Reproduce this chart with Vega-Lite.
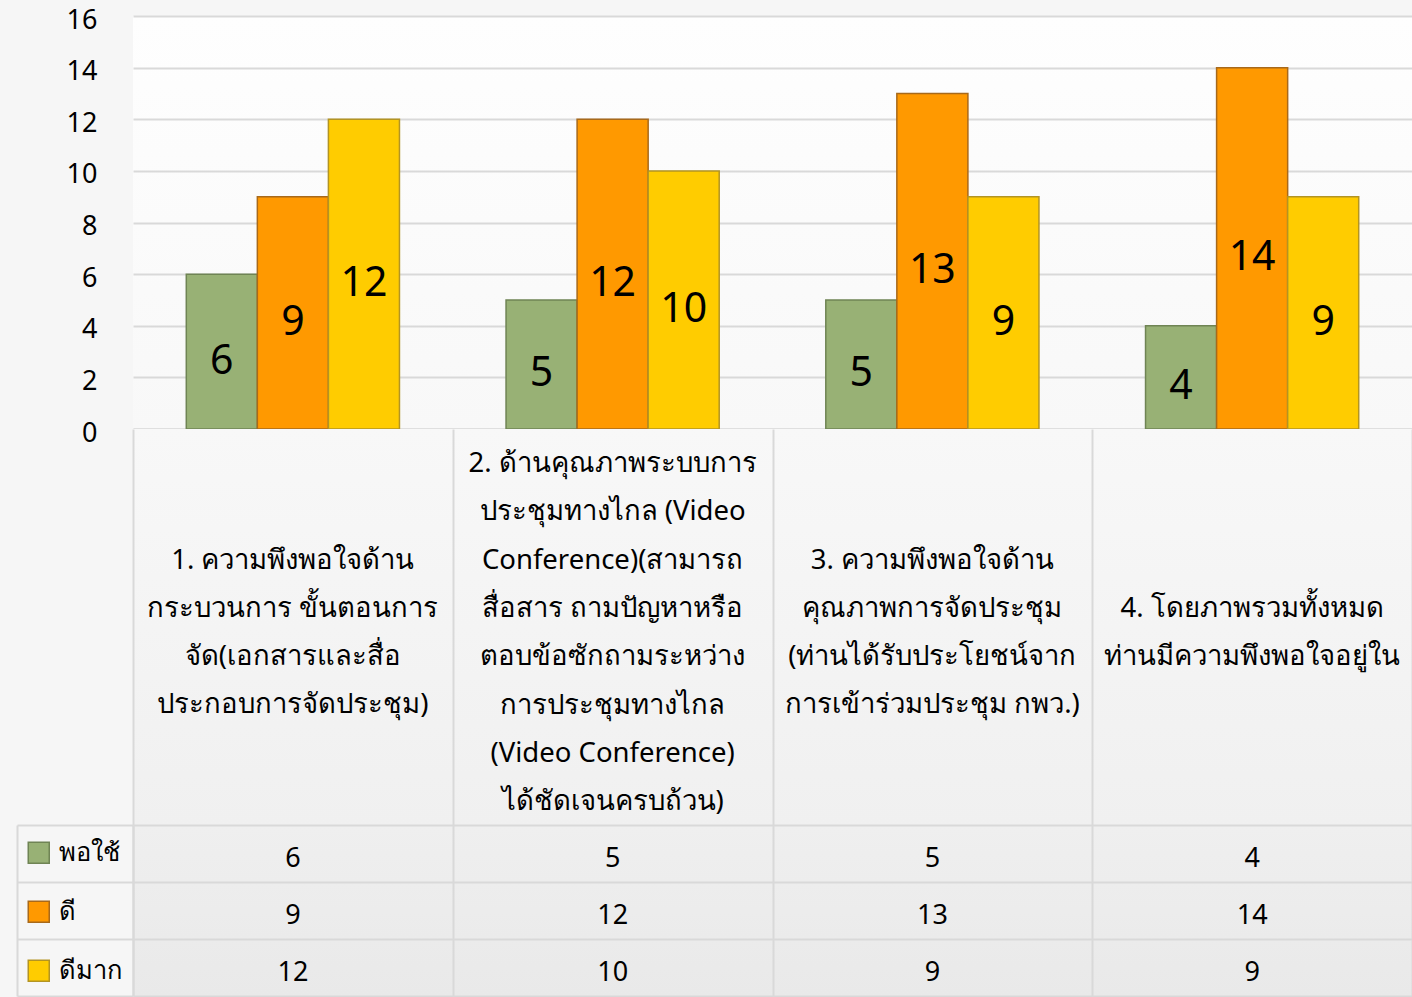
{
  "$schema": "https://vega.github.io/schema/vega-lite/v6.json",
  "padding": {"left": 16, "top": 6, "right": 0, "bottom": 0},
  "background": "#f6f6f6",
  "spacing": 0,
  "bounds": "flush",
  "config": {
    "font": "Noto Sans",
    "view": {"stroke": null},
    "axis": {"labelFont": "Noto Sans", "labelColor": "#000000"},
    "legend": {"labelFont": "Noto Sans", "labelColor": "#000000"}
  },
  "resolve": {
    "scale": {"x": "independent", "y": "independent", "fill": "independent", "stroke": "independent"},
    "axis": {"x": "independent", "y": "independent"},
    "legend": {"fill": "independent", "stroke": "independent"}
  },
  "datasets": {
    "scores": [
      {"cat": "c1", "series": "พอใช้", "value": 6},
      {"cat": "c1", "series": "ดี", "value": 9},
      {"cat": "c1", "series": "ดีมาก", "value": 12},
      {"cat": "c2", "series": "พอใช้", "value": 5},
      {"cat": "c2", "series": "ดี", "value": 12},
      {"cat": "c2", "series": "ดีมาก", "value": 10},
      {"cat": "c3", "series": "พอใช้", "value": 5},
      {"cat": "c3", "series": "ดี", "value": 13},
      {"cat": "c3", "series": "ดีมาก", "value": 9},
      {"cat": "c4", "series": "พอใช้", "value": 4},
      {"cat": "c4", "series": "ดี", "value": 14},
      {"cat": "c4", "series": "ดีมาก", "value": 9}
    ],
    "cats": [
      {"cat": "c1", "label": "1. ความพึงพอใจด้าน\nกระบวนการ ขั้นตอนการ\nจัด(เอกสารและสื่อ\nประกอบการจัดประชุม)"},
      {"cat": "c2", "label": "2. ด้านคุณภาพระบบการ\nประชุมทางไกล (Video\nConference)(สามารถ\nสื่อสาร ถามปัญหาหรือ\nตอบข้อซักถามระหว่าง\nการประชุมทางไกล\n(Video Conference)\nได้ชัดเจนครบถ้วน)"},
      {"cat": "c3", "label": "3. ความพึงพอใจด้าน\nคุณภาพการจัดประชุม\n(ท่านได้รับประโยชน์จาก\nการเข้าร่วมประชุม กพว.)"},
      {"cat": "c4", "label": "4. โดยภาพรวมทั้งหมด\nท่านมีความพึงพอใจอยู่ใน"}
    ]
  },
  "vconcat": [
    {
      "width": 1279,
      "height": 413,
      "view": {"stroke": null, "fill": {"gradient": "linear", "x1": 0, "y1": 0, "x2": 0, "y2": 1, "stops": [{"offset": 0, "color": "#fefefe"}, {"offset": 1, "color": "#f8f8f8"}]}},
      "data": {"name": "scores"},
      "encoding": {
        "x": {"field": "cat", "type": "nominal", "scale": {"domain": ["c1", "c2", "c3", "c4"], "paddingInner": 0, "paddingOuter": 0},
              "axis": {"title": null, "labels": false, "ticks": false, "grid": false, "domain": true, "domainColor": "#d6d6d6", "domainWidth": 2}},
        "xOffset": {"field": "series", "type": "nominal", "sort": ["พอใช้", "ดี", "ดีมาก"], "scale": {"paddingInner": 0, "paddingOuter": 0.75}}
      },
      "layer": [
        {
          "mark": {"type": "bar", "strokeWidth": 1.5},
          "encoding": {
            "y": {"field": "value", "type": "quantitative", "scale": {"domain": [0, 16], "nice": false},
                  "axis": {"title": null, "values": [0, 2, 4, 6, 8, 10, 12, 14, 16], "ticks": false, "domain": false, "grid": true, "gridColor": "#d9d9d9", "gridWidth": 2, "labelFontSize": 27, "labelPadding": 36, "labelOffset": 4}},
            "fill": {"field": "series", "type": "nominal", "sort": ["พอใช้", "ดี", "ดีมาก"], "scale": {"domain": ["พอใช้", "ดี", "ดีมาก"], "range": ["#98b175", "#ff9900", "#ffcc00"]}, "legend": null},
            "stroke": {"field": "series", "type": "nominal", "scale": {"domain": ["พอใช้", "ดี", "ดีมาก"], "range": ["#6f8454", "#a8691a", "#b39422"]}, "legend": null}
          }
        },
        {
          "mark": {"type": "text", "fontSize": 41, "baseline": "middle", "dy": 10, "color": "#000000"},
          "encoding": {
            "y": {"field": "value", "type": "quantitative", "scale": {"domain": [0, 32], "nice": false}, "axis": null},
            "text": {"field": "value", "type": "quantitative"}
          }
        }
      ],
      "resolve": {"scale": {"y": "independent"}, "axis": {"y": "independent"}}
    },
    {
      "width": 1279,
      "height": 396,
      "view": {"stroke": null, "fill": {"gradient": "linear", "x1": 0, "y1": 0, "x2": 0, "y2": 1, "stops": [{"offset": 0, "color": "#f8f8f8"}, {"offset": 1, "color": "#f0f0f0"}]}},
      "data": {"name": "cats"},
      "encoding": {
        "x": {"field": "cat", "type": "nominal", "scale": {"domain": ["c1", "c2", "c3", "c4"], "paddingInner": 0, "paddingOuter": 0},
              "axis": {"title": null, "orient": "top", "labels": false, "ticks": false, "domain": false, "grid": true, "tickBand": "extent", "gridColor": "#d9d9d9", "gridWidth": 2}},
        "text": {"field": "label", "type": "nominal"}
      },
      "layer": [
        {
          "transform": [{"filter": "datum.cat == 'c1' || datum.cat == 'c3'"}],
          "mark": {"type": "text", "fontSize": 27.5, "lineHeight": 48.3, "lineBreak": "\n", "baseline": "middle", "align": "center", "dy": -66.5, "color": "#000000"}
        },
        {
          "transform": [{"filter": "datum.cat == 'c2'"}],
          "mark": {"type": "text", "fontSize": 27.5, "lineHeight": 48.3, "lineBreak": "\n", "baseline": "middle", "align": "center", "dy": -163, "color": "#000000"}
        },
        {
          "transform": [{"filter": "datum.cat == 'c4'"}],
          "mark": {"type": "text", "fontSize": 27.5, "lineHeight": 48.3, "lineBreak": "\n", "baseline": "middle", "align": "center", "dy": -18, "color": "#000000"}
        }
      ]
    },
    {
      "width": 1279,
      "height": 171,
      "view": {"stroke": null, "fill": {"gradient": "linear", "x1": 0, "y1": 0, "x2": 0, "y2": 1, "stops": [{"offset": 0, "color": "#efefef"}, {"offset": 1, "color": "#e9e9e9"}]}},
      "data": {"name": "scores"},
      "encoding": {
        "x": {"field": "cat", "type": "nominal", "scale": {"domain": ["c1", "c2", "c3", "c4"], "paddingInner": 0, "paddingOuter": 0},
              "axis": {"title": null, "labels": false, "ticks": false, "domain": false, "grid": true, "tickBand": "extent", "gridColor": "#d9d9d9", "gridWidth": 2}},
        "y": {"field": "series", "type": "nominal", "sort": ["พอใช้", "ดี", "ดีมาก"], "scale": {"domain": ["พอใช้", "ดี", "ดีมาก"], "paddingInner": 0, "paddingOuter": 0}}
      },
      "layer": [
        {
          "mark": {"type": "text", "fontSize": 27, "baseline": "middle", "dy": 5, "color": "#000000"},
          "encoding": {
            "y": {"field": "series", "type": "nominal", "sort": ["พอใช้", "ดี", "ดีมาก"],
                  "axis": {"title": null, "labels": false, "domain": true, "domainColor": "#d9d9d9", "domainWidth": 2, "ticks": true, "tickBand": "extent", "tickSize": 116, "tickColor": "#d9d9d9", "tickWidth": 2, "grid": true, "gridColor": "#d9d9d9", "gridWidth": 2}},
            "text": {"field": "value", "type": "quantitative"}
          }
        },
        {
          "mark": {"type": "square", "opacity": 0},
          "encoding": {
            "y": {"field": "series", "type": "nominal", "sort": ["พอใช้", "ดี", "ดีมาก"],
                  "axis": {"title": null, "orient": "left", "offset": 116, "labels": false, "ticks": false, "grid": false, "domain": true, "domainColor": "#d9d9d9", "domainWidth": 2}},
            "fill": {"field": "series", "type": "nominal", "sort": ["พอใช้", "ดี", "ดีมาก"], "scale": {"domain": ["พอใช้", "ดี", "ดีมาก"], "range": ["#98b175", "#ff9900", "#ffcc00"]},
                     "legend": {"title": null, "orient": "none", "legendX": -107, "legendY": 15, "padding": 0, "symbolType": "square", "symbolSize": 441, "symbolOpacity": 1, "symbolStrokeWidth": 1.5, "labelFontSize": 25.5, "labelOffset": 7, "rowPadding": 31}},
            "stroke": {"field": "series", "type": "nominal", "sort": ["พอใช้", "ดี", "ดีมาก"], "scale": {"domain": ["พอใช้", "ดี", "ดีมาก"], "range": ["#6f8454", "#a8691a", "#b39422"]},
                     "legend": {"title": null, "orient": "none", "legendX": -107, "legendY": 15, "padding": 0, "symbolType": "square", "symbolSize": 441, "symbolOpacity": 1, "symbolStrokeWidth": 1.5, "labelFontSize": 25.5, "labelOffset": 7, "rowPadding": 31}}
          }
        }
      ],
      "resolve": {"axis": {"y": "independent"}}
    }
  ]
}
